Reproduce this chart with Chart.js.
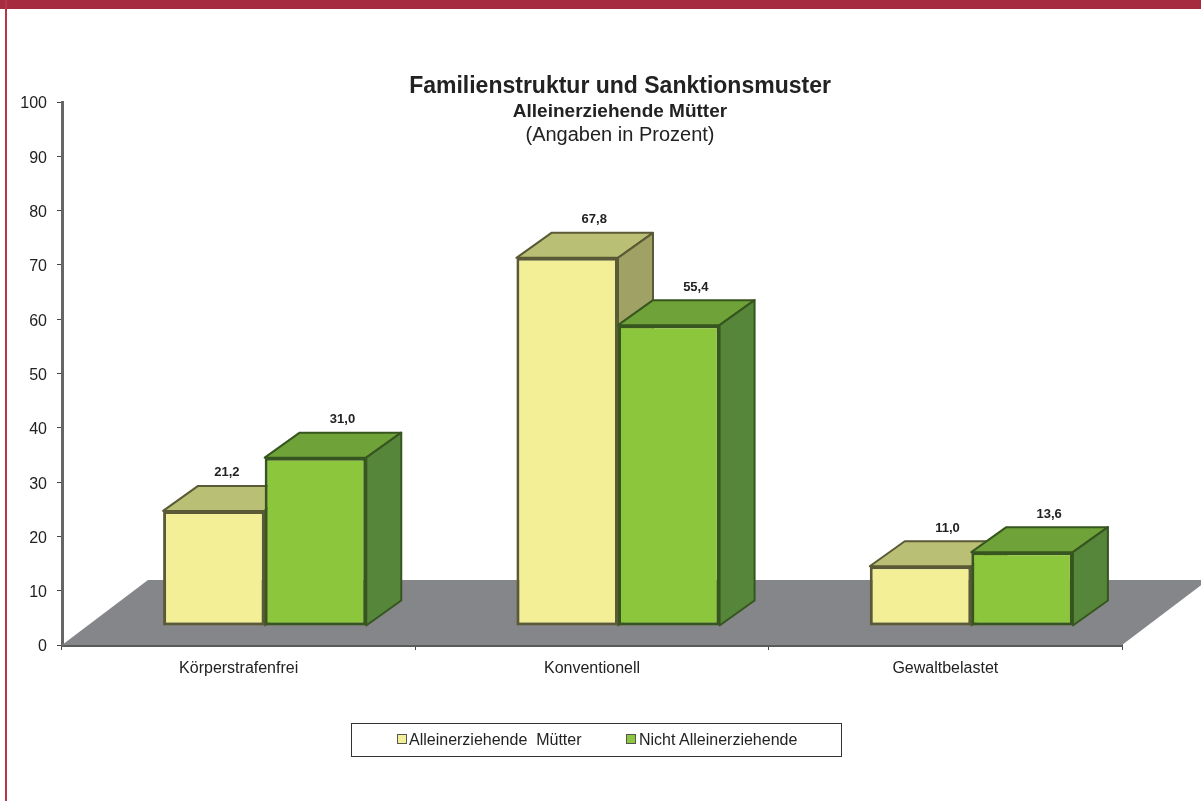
<!DOCTYPE html>
<html lang="de">
<head>
<meta charset="utf-8">
<title>Familienstruktur und Sanktionsmuster</title>
<script src="https://cdn.jsdelivr.net/npm/chart.js@4/dist/chart.umd.min.js"></script>
<style>
    html, body { margin: 0; background: #fff; overflow: hidden; }
    #wrap { position: relative; width: 1201px; height: 801px; }
    #topBar { position: absolute; left: 0; top: 0; width: 1201px; height: 9px; background: #a62b3f; }
    #sideBar { position: absolute; left: 5px; top: 0; width: 2px; height: 801px; background: #b8344b; }
    #legend {
        position: absolute; left: 351px; top: 723px; width: 489px; height: 32px;
        border: 1.5px solid #333; box-sizing: content-box;
        font: 16px "Liberation Sans", Arial, sans-serif; color: #222;
    }
    #legend .swatch { position: absolute; top: 10px; width: 8px; height: 8px; border: 1px solid #555; }
    #legend .label { position: absolute; top: 8px; white-space: pre; line-height: 16px; }
</style>
</head>
<body>
<div id="wrap">
    <canvas id="sanktionChart" width="1201" height="801"></canvas>
    <div id="topBar"></div>
    <div id="sideBar"></div>
    <div id="legend"></div>
</div>
<script>
const categories = ['Körperstrafenfrei', 'Konventionell', 'Gewaltbelastet'];
const seriesNames = ['Alleinerziehende  Mütter', 'Nicht Alleinerziehende'];
const muetter = [21.2, 67.8, 11.0];
const nichtAllein = [31.0, 55.4, 13.6];
const yTicks = [0, 10, 20, 30, 40, 50, 60, 70, 80, 90, 100];
const titleLines = ['Familienstruktur und Sanktionsmuster', 'Alleinerziehende Mütter', '(Angaben in Prozent)'];

const FONT = '"Liberation Sans", Arial, sans-serif';

// colours per series: front, top, side, edge
const faces = [
    { front: '#f3ef96', top: '#b9bf74', side: '#a0a265', edge: '#5b5a36' },
    { front: '#8cc63c', top: '#6fa33a', side: '#55863a', edge: '#37561f' }
];

// the "3D" look: bars stand a bit behind the axis line, on a grey floor
const SHIFT = { x: 26, y: -19 };
const DEPTH = { x: 35, y: -25 };
const FLOOR = { x: 86, y: -65 };

function poly(c, pts, fill, stroke) {
    c.beginPath();
    pts.forEach((p, i) => i ? c.lineTo(p[0], p[1]) : c.moveTo(p[0], p[1]));
    c.closePath();
    c.fillStyle = fill;
    c.fill();
    if (stroke) {
        c.strokeStyle = stroke;
        c.lineWidth = 2;
        c.lineJoin = 'round';
        c.stroke();
    }
}

const floorAndBoxes = {
    id: 'floorAndBoxes',
    beforeDatasetsDraw(chart) {
        const { ctx, chartArea: a } = chart;
        poly(ctx, [
            [a.left, a.bottom], [a.right, a.bottom],
            [a.right + FLOOR.x, a.bottom + FLOOR.y], [a.left + FLOOR.x, a.bottom + FLOOR.y]
        ], '#85868a');

        // left series first so the right one covers its side face
        chart.data.datasets.forEach((ds, i) => {
            const meta = chart.getDatasetMeta(i);
            const f = faces[i];
            ctx.save();
            ctx.translate(SHIFT.x, SHIFT.y);
            meta.data.forEach(bar => {
                const l = bar.x - bar.width / 2, r = bar.x + bar.width / 2;
                poly(ctx, [[l, bar.y], [r, bar.y], [r + DEPTH.x, bar.y + DEPTH.y], [l + DEPTH.x, bar.y + DEPTH.y]], f.top, f.edge);
                poly(ctx, [[r, bar.y], [r + DEPTH.x, bar.y + DEPTH.y], [r + DEPTH.x, bar.base + DEPTH.y], [r, bar.base]], f.side, f.edge);
            });
            meta.controller.draw();
            ctx.restore();
        });
    },
    // already drawn above, in the right order
    beforeDatasetDraw() {
        return false;
    },
    afterDatasetsDraw(chart) {
        const ctx = chart.ctx;
        ctx.save();
        ctx.textAlign = 'center';
        ctx.textBaseline = 'middle';
        ctx.fillStyle = '#222';
        // value labels sit above the back edge of each box
        ctx.font = 'bold 13px ' + FONT;
        chart.data.datasets.forEach((ds, i) => {
            chart.getDatasetMeta(i).data.forEach((bar, j) => {
                const nudge = (i === 0 && j === 0) ? -14 : 0; // 21,2 is further left in the original
                ctx.fillText(ds.data[j].toFixed(1).replace('.', ','),
                    bar.x + SHIFT.x + 27 + nudge, bar.y + SHIFT.y + DEPTH.y - 13);
            });
        });
        // title block overlaps the top of the plot
        const cx = 620;
        ctx.font = 'bold 23px ' + FONT;
        ctx.fillText(titleLines[0], cx, 87);
        ctx.font = 'bold 19px ' + FONT;
        ctx.fillText(titleLines[1], cx, 112);
        ctx.font = '20px ' + FONT;
        ctx.fillText(titleLines[2], cx, 135);
        ctx.restore();
    }
};

new Chart(document.getElementById('sanktionChart'), {
    type: 'bar',
    data: {
        labels: categories,
        datasets: [
            { label: seriesNames[0], data: muetter, backgroundColor: faces[0].front, borderColor: faces[0].edge },
            { label: seriesNames[1], data: nichtAllein, backgroundColor: faces[1].front, borderColor: faces[1].edge }
        ]
    },
    options: {
        responsive: false,
        animation: false,
        layout: { padding: { top: 102, right: 79, left: 0, bottom: 0 } },
        datasets: {
            bar: { categoryPercentage: 0.575, barPercentage: 1, borderWidth: 3, borderSkipped: false, clip: false }
        },
        plugins: {
            legend: { display: false },
            title: { display: false },
            tooltip: { enabled: false }
        },
        scales: {
            x: {
                afterFit: s => { s.height = 156; },
                grid: { drawOnChartArea: false, color: '#444', tickLength: 5 },
                border: { color: '#5a5a5a', width: 3 },
                ticks: { color: '#222', font: { family: FONT, size: 16 }, padding: 9, maxRotation: 0 }
            },
            y: {
                min: 0,
                max: 100,
                afterFit: s => { s.width = 62; },
                afterBuildTicks: s => { s.ticks = yTicks.map(v => ({ value: v })); },
                grid: { drawOnChartArea: false, color: '#444', tickLength: 5 },
                border: { color: '#666', width: 3 },
                ticks: { color: '#222', font: { family: FONT, size: 16 }, padding: 10, labelOffset: 2 }
            }
        }
    },
    plugins: [floorAndBoxes]
});

// html legend, chart.js one can't do the tight swatch + wide gap of the original
const legendEl = document.getElementById('legend');
const legendX = [[45, 57], [274, 287]];
seriesNames.forEach((name, i) => {
    const sw = document.createElement('div');
    sw.className = 'swatch';
    sw.style.left = legendX[i][0] + 'px';
    sw.style.background = faces[i].front;
    const lb = document.createElement('div');
    lb.className = 'label';
    lb.style.left = legendX[i][1] + 'px';
    lb.textContent = name;
    legendEl.append(sw, lb);
});
</script>
</body>
</html>
